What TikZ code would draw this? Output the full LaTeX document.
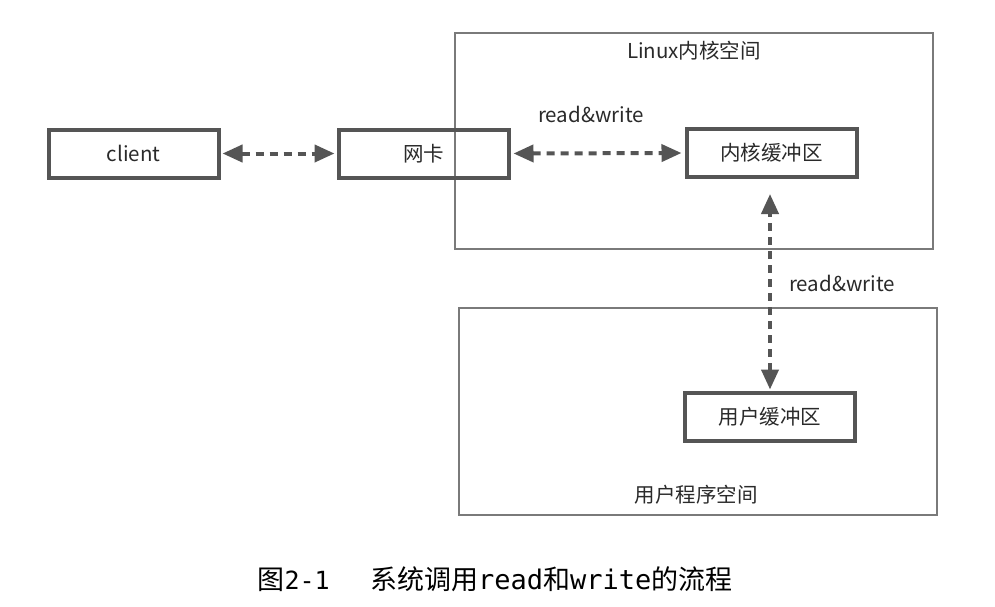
\documentclass[tikz,border=0pt]{standalone}
\usepackage{fontspec}
\setmainfont{Noto Sans CJK SC}
\newfontfamily\cjk{Noto Sans CJK SC}
\newfontfamily\capmono{DejaVu Sans Mono}
\usetikzlibrary{arrows.meta}
\definecolor{boxc}{HTML}{555555}
\definecolor{areac}{HTML}{7A7A7A}
\definecolor{txt}{HTML}{2A2A2A}
\begin{document}
\begin{tikzpicture}[x=1pt,y=-1pt,
  bufbox/.style={draw=boxc,line width=4pt,minimum width=170pt,minimum height=48pt,inner sep=0pt,font=\fontsize{20.5}{24}\selectfont,text=txt},
  area/.style={draw=areac,line width=1.4pt},
  lbl/.style={font=\fontsize{20.5}{24}\selectfont,text=txt,inner sep=0pt},
  darr/.style={draw=boxc,line width=4pt,dash pattern=on 8pt off 6pt,{Triangle[length=20pt,width=17pt]}-{Triangle[length=20pt,width=17pt]}}
]
\useasboundingbox (0,0) rectangle (995,606);
\fill[white] (0,0) rectangle (995,606);
% containers
\draw[area] (455,33) rectangle (933,249);
\draw[area] (459,308) rectangle (937,515);
% boxes
\node[bufbox] (client) at (133.5,153.5) {client};
\node[bufbox] (nic) at (423.5,153.5) {网卡};
\node[bufbox] (kbuf) at (771.5,153) {内核缓冲区};
\node[bufbox] (ubuf) at (770,416.5) {用户缓冲区};
% labels
\node[lbl] (kspace) at (694,51) {Linux内核空间};
\node[lbl] (rw1) at (591,114) {read\&write};
\node[lbl] (rw2) at (842,283) {read\&write};
\node[lbl] (uspace) at (696,495) {用户程序空间};
% arrows
\draw[darr,shorten <=2pt,shorten >=2pt] (client.east) -- (nic.west);
\draw[darr,shorten <=3pt,shorten >=3pt] (nic.east) -- (kbuf.west);
\coordinate (ktop) at (kbuf.south -| ubuf.north);
\draw[darr,shorten <=1pt,shorten >=15pt] (ubuf.north) -- (ktop);
% caption
\node[inner sep=0pt,text=black,font=\fontsize{27}{30}\selectfont] (cap) at (495,579) {图{\capmono\fontsize{25}{30}\selectfont 2-1}\hspace{1.5em}系统调用{\capmono read}和{\capmono write}的流程};
\end{tikzpicture}
\end{document}
